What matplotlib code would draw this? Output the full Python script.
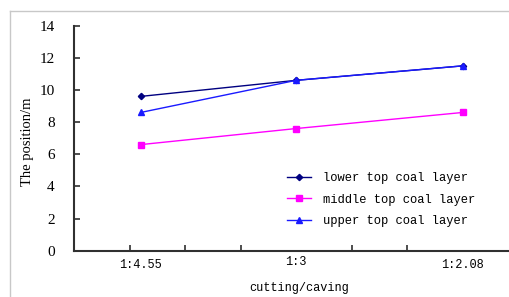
import matplotlib
matplotlib.use("Agg")
import matplotlib.pyplot as plt
from matplotlib.lines import Line2D

categories = ["1:4.55", "1:3", "1:2.08"]
cat_pos = [1.2, 4.0, 7.0]
lower = [9.6, 10.6, 11.5]
middle = [6.6, 7.6, 8.6]
upper = [8.6, 10.6, 11.5]
series_names = ["lower top coal layer", "middle top coal layer", "upper top coal layer"]

W, H = 510, 297
fig = plt.figure(figsize=(W / 100, H / 100), dpi=100)
fig.patch.set_facecolor("white")

# outer frame (top and left edges visible)
fx, fy = 10.5 / W, 1 - 11 / H
fig.lines.append(Line2D([fx, 1.0], [fy, fy], transform=fig.transFigure,
                        color="#c8c8c8", lw=1.0))
fig.lines.append(Line2D([fx, fx], [0.0, fy], transform=fig.transFigure,
                        color="#c8c8c8", lw=1.0))

ax = fig.add_axes([74 / W, 1 - 250.7 / H, 1 - 74 / W, (250.7 - 25.7) / H])
ax.set_facecolor("none")

ax.plot(cat_pos, middle, color="#ff00ff", lw=1.0, marker="s", ms=4.0, label=series_names[1], zorder=3)
ax.plot(cat_pos, lower, color="#000080", lw=1.0, marker="D", ms=3.2, label=series_names[0], zorder=3)
ax.plot(cat_pos, upper, color="#1a1aff", lw=1.0, marker="^", ms=4.8, label=series_names[2], zorder=4)

ax.set_xlim(0, (W - 74) / 55.5)
ax.set_ylim(0, 14)
ax.set_yticks(range(0, 15, 2))
ax.set_xticks(cat_pos)
ax.set_xticklabels(categories, fontfamily="Liberation Mono", fontsize=8.6)
ax.set_xticks(range(1, 8), minor=True)
ax.tick_params(axis="x", which="major", length=0, pad=6)
ax.tick_params(axis="x", which="minor", direction="in", length=4, width=1.2, color="#303030")
ax.tick_params(axis="y", direction="in", length=4, width=1.2, color="#303030", pad=14)
for lab in ax.get_yticklabels():
    lab.set_fontfamily("Liberation Serif")
    lab.set_fontsize(11)
    lab.set_horizontalalignment("right")
ax.get_xticklabels()[1].set_y(0.015)

for s in ["top", "right"]:
    ax.spines[s].set_visible(False)
for s in ["left", "bottom"]:
    ax.spines[s].set_color("#303030")
    ax.spines[s].set_linewidth(1.5)

fig.text(299 / W, 1 - 288 / H, "cutting/caving", ha="center", va="center",
         fontfamily="Liberation Mono", fontsize=8.6)
fig.text(28 / W, 1 - 142 / H, "The position/m", ha="center", va="center",
         rotation=90, fontfamily="Liberation Serif", fontsize=10.5)

handles, labels = ax.get_legend_handles_labels()
order = [1, 0, 2]
leg = ax.legend([handles[i] for i in order], [labels[i] for i in order],
                loc="upper left", bbox_to_anchor=(287 / W, 1 - 172 / H),
                bbox_transform=fig.transFigure, frameon=False,
                prop={"family": "Liberation Mono", "size": 8.7},
                borderpad=0, borderaxespad=0, handlelength=2.0,
                handletextpad=1.0, labelspacing=0.8)

fig.savefig("out.png", dpi=100)
